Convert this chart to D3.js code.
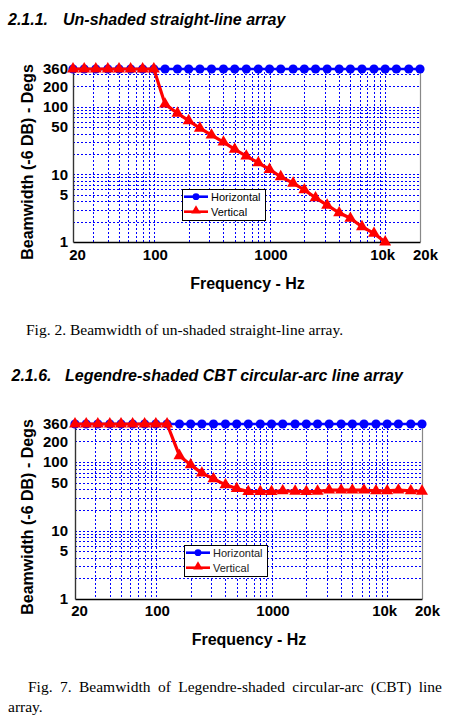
<!DOCTYPE html>
<html>
<head>
<meta charset="utf-8">
<script src="https://cdn.jsdelivr.net/npm/d3@7"></script>
<style>
  html, body { margin: 0; padding: 0; background: #fff; }
  svg { display: block; }
</style>
</head>
<body>
<svg id="page" width="465" height="722"></svg>
<script>
// ---------------- DATA ----------------
const frequencies = [20, 25, 31.5, 40, 50, 63, 80, 100, 125, 160, 200, 250, 315, 400, 500, 630, 800,
  1000, 1250, 1600, 2000, 2500, 3150, 4000, 5000, 6300, 8000, 10000, 12500, 16000, 20000];

const horizontalTop = [360, 360, 360, 360, 360, 360, 360, 360, 360, 360, 360, 360, 360, 360, 360, 360,
  360, 360, 360, 360, 360, 360, 360, 360, 360, 360, 360, 360, 360, 360, 360];
const verticalTop = [360, 360, 360, 360, 360, 360, 360, 360, 109, 80, 62, 48, 38, 30, 23.4, 18.6, 14.8,
  11.8, 9.2, 7.4, 5.9, 4.5, 3.5, 2.7, 2.24, 1.68, 1.34, 1.0];

const horizontalBottom = [360, 360, 360, 360, 360, 360, 360, 360, 360, 360, 360, 360, 360, 360, 360, 360,
  360, 360, 360, 360, 360, 360, 360, 360, 360, 360, 360, 360, 360, 360, 360];
const verticalBottom = [360, 360, 360, 360, 360, 360, 360, 360, 360, 124, 91, 69, 57, 46.5, 41, 37, 37,
  37, 38, 37.5, 37, 37.5, 39, 39, 39, 39, 38, 38, 39, 38, 37.5];

const seriesNames = ["Horizontal", "Vertical"];
const xTickValues = [20, 100, 1000, 10000, 20000];
const xTickLabels = ["20", "100", "1000", "10k", "20k"];
const yTickValues = [1, 5, 10, 50, 100, 200, 360];
const yTickLabels = ["1", "5", "10", "50", "100", "200", "360"];
const xGridValues = [30, 40, 50, 60, 70, 80, 90, 100, 200, 300, 400, 500, 600, 700, 800, 900,
  1000, 2000, 3000, 4000, 5000, 6000, 7000, 8000, 9000, 10000];
const yGridValues = [2, 3, 4, 5, 6, 7, 8, 9, 10, 20, 30, 40, 50, 60, 70, 80, 90, 100, 200, 300];

const xTitle = "Frequency - Hz";
const yTitle = "Beamwidth (-6 DB) - Degs";

// ---------------- DRAW ----------------
const svg = d3.select("#page");
const SANS = "'Liberation Sans', Arial, Helvetica, sans-serif";
const SERIF = "'Liberation Serif', 'Times New Roman', serif";
const BLUE = "#0000ff", RED = "#ff0000";

function heading(num, title, xNum, xTitleX, y) {
  svg.append("text").attr("x", xNum).attr("y", y).text(num)
    .attr("font-family", SANS).attr("font-size", 16).attr("font-weight", "bold").attr("font-style", "italic");
  svg.append("text").attr("x", xTitleX).attr("y", y).text(title)
    .attr("font-family", SANS).attr("font-size", 16).attr("font-weight", "bold").attr("font-style", "italic");
}

function chart(opt) {
  const x = d3.scaleLog().domain([20, 20000]).range([opt.left, opt.right]);
  const y = d3.scaleLog().domain([1, 360]).range([opt.bottom, opt.top]);
  const g = svg.append("g");

  // grid
  const grid = g.append("g").attr("stroke", "#0000ff").attr("stroke-width", 1)
    .attr("stroke-dasharray", "2,2");
  grid.selectAll("line.h").data(yGridValues).join("line").attr("class", "h")
    .attr("x1", opt.left).attr("x2", opt.right)
    .attr("y1", d => Math.round(y(d)) + 0.5).attr("y2", d => Math.round(y(d)) + 0.5);
  grid.selectAll("line.v").data(xGridValues).join("line").attr("class", "v")
    .attr("y1", opt.top + 3).attr("y2", opt.bottom)
    .attr("x1", d => Math.round(x(d)) + 0.5).attr("x2", d => Math.round(x(d)) + 0.5);

  // frame: right border gray
  g.append("line").attr("x1", opt.right + 0.5).attr("x2", opt.right + 0.5)
    .attr("y1", opt.top).attr("y2", opt.bottom).attr("stroke", "#888").attr("stroke-width", 1.2);

  // axes
  const xAxis = d3.axisBottom(x).tickValues(xTickValues)
    .tickFormat((d, i) => xTickLabels[i]).tickSize(0).tickPadding(opt.xPad);
  const gx = g.append("g").attr("transform", `translate(0,${opt.bottom})`).call(xAxis);
  gx.select(".domain").attr("stroke", "#000").attr("stroke-width", 1.6);
  gx.selectAll("text").attr("font-family", SANS).attr("font-size", 15).attr("font-weight", "bold")
    .attr("fill", "#000")
    .attr("dx", d => d === 20 ? 4 : d === 10000 ? -3 : d === 20000 ? 5 : 1);

  const yAxis = d3.axisLeft(y).tickValues(yTickValues)
    .tickFormat((d, i) => yTickLabels[i]).tickSize(0).tickPadding(opt.yPad);
  const gy = g.append("g").attr("transform", `translate(${opt.left},0)`).call(yAxis);
  gy.select(".domain").attr("stroke", "#333").attr("stroke-width", 1.4);
  gy.selectAll("text").attr("font-family", SANS).attr("font-size", 15).attr("font-weight", "bold")
    .attr("fill", "#000");

  // titles
  g.append("text").attr("x", opt.xTitleX).attr("y", opt.xTitleY).attr("text-anchor", "middle")
    .attr("font-family", SANS).attr("font-size", 16).attr("font-weight", "bold").text(xTitle);
  g.append("text").attr("transform", `translate(${opt.yTitleX},${opt.yTitleY}) rotate(-90)`)
    .attr("text-anchor", "middle").attr("dominant-baseline", "central")
    .attr("font-family", SANS).attr("font-size", 16).attr("font-weight", "bold").text(yTitle);

  const line = d3.line().x((d, i) => x(frequencies[i])).y(d => y(d));
  const tri = d3.symbol().type(d3.symbolTriangle).size(62);

  // Horizontal series
  g.append("path").datum(opt.horiz).attr("d", line).attr("fill", "none")
    .attr("stroke", BLUE).attr("stroke-width", 2.6);
  g.selectAll("circle.h").data(opt.horiz).join("circle").attr("class", "h")
    .attr("cx", (d, i) => x(frequencies[i])).attr("cy", d => y(d)).attr("r", 4.6).attr("fill", BLUE);

  // Vertical series
  g.append("path").datum(opt.vert).attr("d", line).attr("fill", "none")
    .attr("stroke", RED).attr("stroke-width", 3.2).attr("stroke-linejoin", "round");
  g.selectAll("path.v").data(opt.vert).join("path").attr("class", "v")
    .attr("transform", (d, i) => `translate(${x(frequencies[i])},${y(d)})`)
    .attr("d", tri).attr("fill", RED);

  // legend
  const L = g.append("g").attr("transform", `translate(${opt.legX},${opt.legY})`);
  L.append("rect").attr("x", 0.5).attr("y", 0.5).attr("width", 83).attr("height", 31)
    .attr("fill", "#fff").attr("stroke", "#000").attr("stroke-width", 1);
  const rows = [7.7, 22.7];
  L.append("line").attr("x1", 2).attr("x2", 26).attr("y1", rows[0]).attr("y2", rows[0])
    .attr("stroke", BLUE).attr("stroke-width", 2.6);
  L.append("circle").attr("cx", 14).attr("cy", rows[0]).attr("r", 3.4).attr("fill", BLUE);
  L.append("line").attr("x1", 2).attr("x2", 26).attr("y1", rows[1]).attr("y2", rows[1])
    .attr("stroke", RED).attr("stroke-width", 2.6);
  L.append("path").attr("transform", `translate(14,${rows[1] - 1})`)
    .attr("d", d3.symbol().type(d3.symbolTriangle).size(40)).attr("fill", RED);
  L.selectAll("text").data(seriesNames).join("text")
    .attr("x", 29).attr("y", (d, i) => rows[i] + 4)
    .attr("font-family", SANS).attr("font-size", 11).attr("fill", opt.legendText).text(d => d);
}

// Section 1
heading("2.1.1.", "Un-shaded straight-line array", 8, 63, 25);
chart({
  left: 73, right: 420, top: 69, bottom: 242, xPad: 7, yPad: 5,
  xTitleX: 247.5, xTitleY: 288.5, yTitleX: 27, yTitleY: 162,
  horiz: horizontalTop, vert: verticalTop, legX: 182, legY: 189, legendText: "#000"
});
svg.append("text").attr("x", 26).attr("y", 335).attr("font-family", SERIF).attr("font-size", 15.5)
  .text("Fig. 2. Beamwidth of un-shaded straight-line array.");

// Section 2
heading("2.1.6.", "Legendre-shaded CBT circular-arc line array", 11.5, 65, 381);
chart({
  left: 75, right: 422, top: 424, bottom: 599, xPad: 6.5, yPad: 7,
  xTitleX: 249, xTitleY: 645, yTitleX: 27, yTitleY: 517,
  horiz: horizontalBottom, vert: verticalBottom, legX: 184, legY: 545, legendText: "#222"
});

// justified caption line
(function () {
  const words = "Fig. 7. Beamwidth of Legendre-shaded circular-arc (CBT) line".split(" ");
  const x0 = 28, x1 = 442, yb = 692;
  const t = svg.selectAll("text.cap").data(words).join("text").attr("class", "cap")
    .attr("y", yb).attr("font-family", SERIF).attr("font-size", 15.5).text(d => d);
  const widths = t.nodes().map(n => n.getComputedTextLength());
  const total = d3.sum(widths);
  const gap = (x1 - x0 - total) / (words.length - 1);
  let cx = x0;
  t.attr("x", (d, i) => { const v = cx; cx += widths[i] + gap; return v; });
  svg.append("text").attr("x", 8).attr("y", 712).attr("font-family", SERIF).attr("font-size", 15.5)
    .text("array.");
})();
</script>
</body>
</html>
